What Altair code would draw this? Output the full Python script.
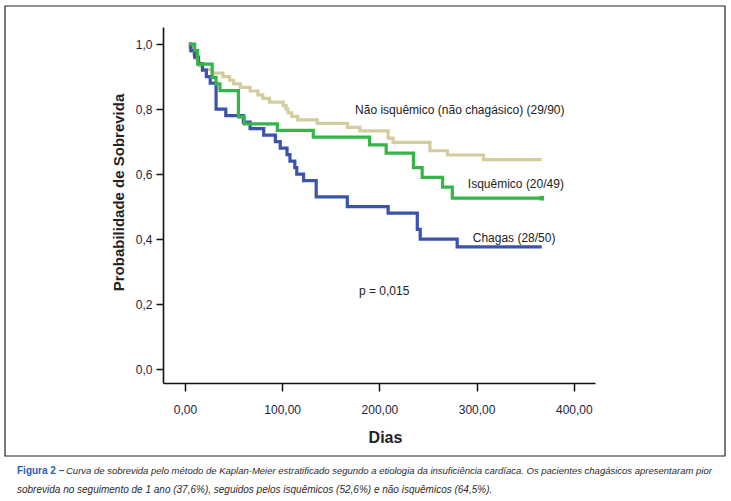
import altair as alt
import pandas as pd

# ---- data ----
chagas_days = [4, 6, 10, 14, 18, 22, 26, 32, 42, 60, 67, 81, 93, 98, 105, 108, 113, 115, 122, 135, 167, 209, 239, 242, 280, 367]
chagas_surv = [1.0, 0.98, 0.96, 0.94, 0.92, 0.90, 0.88, 0.80, 0.78, 0.76, 0.74, 0.72, 0.70, 0.68, 0.66, 0.64, 0.62, 0.60, 0.58, 0.53, 0.50, 0.48, 0.43, 0.40, 0.376, 0.376]

isq_days = [4, 10, 13, 28, 32, 36, 55, 61, 95, 132, 190, 207, 235, 244, 265, 275, 367]
isq_surv = [1.0, 0.98, 0.939, 0.898, 0.878, 0.857, 0.776, 0.755, 0.735, 0.714, 0.69, 0.665, 0.62, 0.59, 0.56, 0.526, 0.526]

naoisq_days = [4, 5, 7, 9, 11, 13, 15, 18, 28, 39, 46, 50, 57, 67, 75, 80, 87, 101, 104, 106, 110, 116, 136, 167, 180, 209, 214, 252, 270, 307, 367]
naoisq_surv = [1.0, 0.989, 0.978, 0.967, 0.956, 0.944, 0.933, 0.922, 0.911, 0.90, 0.889, 0.878, 0.867, 0.856, 0.844, 0.833, 0.822, 0.811, 0.80, 0.789, 0.778, 0.767, 0.756, 0.744, 0.733, 0.711, 0.698, 0.672, 0.659, 0.645, 0.645]

groups = ["Não isquêmico", "Chagas", "Isquêmico"]
colors = ["#d3cc9d", "#3a53ad", "#35b549"]

x_ticks = [0, 100, 200, 300, 400]
y_ticks = [0.0, 0.2, 0.4, 0.6, 0.8, 1.0]

labels_text = ["Não isquêmico (não chagásico) (29/90)", "Isquêmico (20/49)", "Chagas (28/50)", "p = 0,015"]
labels_day = [175, 291, 296, 179]
labels_p = [0.798, 0.57, 0.403, 0.24]

caption_head = "Figura 2 –"
caption_1 = ("Curva de sobrevida pelo método de Kaplan-Meier estratificado segundo a etiologia da insuficiência "
             "cardíaca. Os pacientes chagásicos apresentaram pior")
caption_2 = "sobrevida no seguimento de 1 ano (37,6%), seguidos pelos isquêmicos (52,6%) e não isquêmicos (64,5%)."

# ---- build table ----
rows = []
for g, ds, ss in [("Não isquêmico", naoisq_days, naoisq_surv),
                  ("Chagas", chagas_days, chagas_surv),
                  ("Isquêmico", isq_days, isq_surv)]:
    for i, (d, s) in enumerate(zip(ds, ss)):
        rows.append({"grupo": g, "dias": d, "surv": s, "ordem": i})
df = pd.DataFrame(rows)
lab_df = pd.DataFrame({"t": labels_text, "dias": labels_day, "surv": labels_p})
end_df = pd.DataFrame({"dias": [isq_days[-1]], "surv": [isq_surv[-1]]})

FONT = "Liberation Sans"
xscale = alt.Scale(domain=[-22.6, 421.8], nice=False, zero=False)
yscale = alt.Scale(domain=[-0.043, 1.053], nice=False, zero=False)

xaxis = alt.Axis(values=x_ticks, tickSize=8, labelPadding=13,
                 labelExpr="replace(format(datum.value, '.2f'), '.', ',')",
                 title="Dias", titleFontSize=16, titleX=222, titleY=54,
                 titleBaseline="middle")
yaxis = alt.Axis(values=y_ticks, tickSize=7, labelPadding=4,
                 labelExpr="replace(format(datum.value, '.1f'), '.', ',')",
                 title="Probabilidade de Sobrevida", titleFontSize=15,
                 titleX=-45, titleY=165, titleAngle=270, titleBaseline="middle",
                 titleAlign="center")

lines = alt.Chart(df).mark_line(interpolate="step-after", strokeWidth=3.2).encode(
    x=alt.X("dias:Q", scale=xscale, axis=xaxis),
    y=alt.Y("surv:Q", scale=yscale, axis=yaxis),
    color=alt.Color("grupo:N", scale=alt.Scale(domain=groups, range=colors), legend=None),
    detail="grupo:N",
    order="ordem:Q",
)

end_pt = alt.Chart(end_df).mark_square(size=22, color="#35b549", opacity=1).encode(
    x=alt.X("dias:Q", scale=xscale), y=alt.Y("surv:Q", scale=yscale)
)

labels = alt.Chart(lab_df).mark_text(align="left", baseline="middle", font=FONT,
                                     fontSize=12, color="#222222").encode(
    x=alt.X("dias:Q", scale=xscale), y=alt.Y("surv:Q", scale=yscale), text="t:N"
)

frame = alt.Chart(end_df).mark_rect(fill=None, stroke="#222222", strokeWidth=1.2, clip=False).encode(
    x=alt.value(-158), x2=alt.value(562), y=alt.value(-21), y2=alt.value(429)
)

CAPF = "Liberation Sans Narrow, Arial Narrow, Liberation Sans, sans-serif"
cap_head = alt.Chart(end_df).mark_text(text=caption_head, align="left", baseline="alphabetic",
                                       font=CAPF, fontSize=10, fontWeight="bold",
                                       color="#1f62ad").encode(
    x=alt.value(-146), y=alt.value(447)
)
cap1 = alt.Chart(end_df).mark_text(text=caption_1, align="left", baseline="alphabetic",
                                   font=CAPF, fontSize=9.5, fontStyle="italic",
                                   color="#2a2a2a").encode(
    x=alt.value(-97), y=alt.value(447)
)
cap2 = alt.Chart(end_df).mark_text(text=caption_2, align="left", baseline="alphabetic",
                                   font=CAPF, fontSize=10, fontStyle="italic",
                                   color="#2a2a2a").encode(
    x=alt.value(-146), y=alt.value(466)
)

chart = alt.layer(frame, lines, end_pt, labels, cap_head, cap1, cap2).properties(
    width=432, height=356,
    padding={"left": 163, "top": 27, "right": 136, "bottom": 118},
    autosize=alt.AutoSizeParams(type="none"),
    background="white",
).configure_view(stroke=None).configure_axis(
    domainColor="#111111", domainWidth=1.6, tickColor="#111111", tickWidth=1.5,
    labelFont=FONT, labelFontSize=12, labelColor="#1e1e3c", grid=False,
    titleFont=FONT, titleFontWeight="bold", titleColor="#222222",
)

chart.save("out.html", embed_options={"renderer": "svg", "actions": False})
